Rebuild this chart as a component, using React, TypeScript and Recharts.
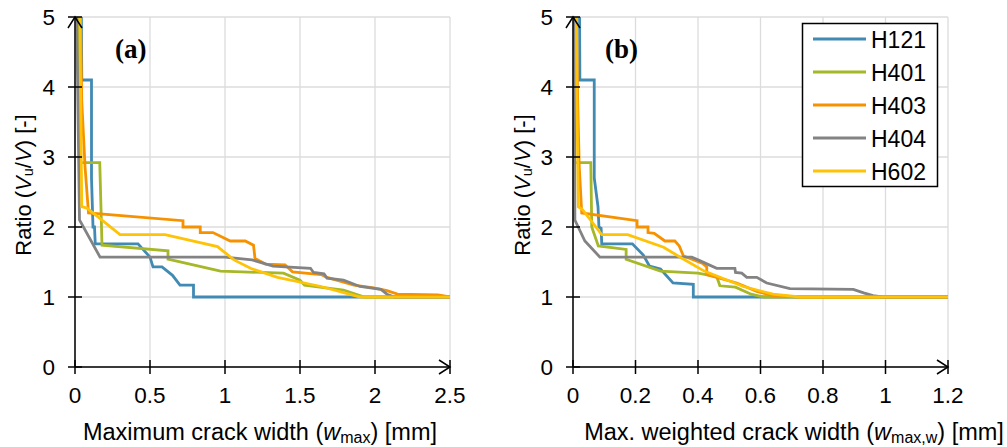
import React from 'react';
import { LineChart, Line, XAxis, YAxis, CartesianGrid, ReferenceDot } from 'recharts';

const FONT = '"Liberation Sans", Arial, sans-serif';

const SERIES_NAMES = ['H121', 'H401', 'H403', 'H404', 'H602'];
const SERIES_COLORS = ['#418AB3', '#A6B727', '#F69200', '#838383', '#FEC306'];

const Y_TICKS = [0, 1, 2, 3, 4, 5];
const XA_TICKS = [0, 0.5, 1, 1.5, 2, 2.5];
const XB_TICKS = [0, 0.2, 0.4, 0.6, 0.8, 1, 1.2];

// Panel (a): maximum crack width
const A_H121: number[][] = [
  [0.04, 6], [0.045, 4.1], [0.11, 4.1], [0.11, 2.7], [0.12, 2.0], [0.13, 2.0], [0.135, 1.76],
  [0.42, 1.76], [0.5, 1.57], [0.52, 1.43], [0.58, 1.43], [0.65, 1.31], [0.7, 1.17],
  [0.79, 1.17], [0.79, 1.0], [2.5, 1.0],
];
const A_H401: number[][] = [
  [0.01, 6], [0.03, 2.92], [0.165, 2.92], [0.18, 1.74], [0.62, 1.66], [0.62, 1.54],
  [0.97, 1.37], [1.39, 1.34], [1.5, 1.24], [1.53, 1.17], [1.79, 1.1], [1.93, 1.0], [2.5, 1.0],
];
const A_H403: number[][] = [
  [0.03, 6], [0.045, 3.8], [0.067, 2.86], [0.09, 2.2], [0.72, 2.09], [0.72, 2.0], [0.835, 2.0],
  [0.835, 1.92], [0.92, 1.92], [1.035, 1.8], [1.135, 1.8], [1.19, 1.74], [1.2, 1.55],
  [1.27, 1.47], [1.4, 1.46], [1.45, 1.36], [1.64, 1.32], [1.68, 1.28], [1.86, 1.17],
  [1.99, 1.13], [2.08, 1.09], [2.15, 1.04], [2.42, 1.03], [2.5, 1.0],
];
const A_H404: number[][] = [
  [0.005, 6], [0.03, 2.1], [0.167, 1.57], [1.0, 1.57], [1.18, 1.53], [1.32, 1.44],
  [1.57, 1.41], [1.59, 1.35], [1.66, 1.33], [1.68, 1.27], [1.79, 1.24], [1.9, 1.15],
  [2.04, 1.11], [2.08, 1.04], [2.13, 1.0], [2.5, 1.0],
];
const A_H602: number[][] = [
  [0.03, 6], [0.037, 4.0], [0.045, 2.29], [0.08, 2.27], [0.3, 1.89], [0.6, 1.89],
  [0.95, 1.72], [1.06, 1.53], [1.17, 1.41], [1.35, 1.28], [1.64, 1.15], [1.9, 1.0], [2.5, 1.0],
];

// Panel (b): max. weighted crack width
const B_H121: number[][] = [
  [0.02, 6], [0.022, 4.1], [0.068, 4.1], [0.068, 2.7], [0.08, 2.29], [0.083, 2.0], [0.09, 1.98],
  [0.092, 1.76], [0.19, 1.76], [0.225, 1.6], [0.245, 1.44], [0.28, 1.4], [0.32, 1.2],
  [0.385, 1.18], [0.385, 1.0], [1.2, 1.0],
];
const B_H401: number[][] = [
  [0.0, 6], [0.002, 2.92], [0.057, 2.92], [0.06, 2.0], [0.081, 1.73], [0.17, 1.68], [0.17, 1.54],
  [0.28, 1.37], [0.4, 1.34], [0.46, 1.29], [0.47, 1.16], [0.52, 1.14], [0.57, 1.04],
  [0.61, 1.0], [1.2, 1.0],
];
const B_H403: number[][] = [
  [0.008, 6], [0.015, 3.8], [0.02, 2.86], [0.028, 2.2], [0.205, 2.09], [0.205, 2.0], [0.24, 2.0],
  [0.24, 1.92], [0.26, 1.91], [0.294, 1.8], [0.326, 1.8], [0.34, 1.73], [0.353, 1.59],
  [0.374, 1.55], [0.415, 1.48], [0.428, 1.43], [0.428, 1.32], [0.524, 1.2], [0.588, 1.08],
  [0.64, 1.02], [0.73, 1.0], [1.2, 1.0],
];
const B_H404: number[][] = [
  [0.004, 6], [0.006, 2.1], [0.038, 1.8], [0.086, 1.57], [0.38, 1.57], [0.4, 1.53],
  [0.46, 1.41], [0.518, 1.41], [0.52, 1.35], [0.54, 1.34], [0.556, 1.28], [0.588, 1.28],
  [0.62, 1.2], [0.694, 1.12], [0.897, 1.11], [0.93, 1.06], [0.96, 1.02], [0.99, 1.0], [1.2, 1.0],
];
const B_H602: number[][] = [
  [0.01, 6], [0.012, 4.0], [0.017, 2.29], [0.03, 2.25], [0.092, 1.89], [0.175, 1.89],
  [0.29, 1.71], [0.35, 1.55], [0.42, 1.37], [0.545, 1.15], [0.64, 1.04], [0.726, 1.0], [1.2, 1.0],
];

const PANEL_A = [A_H121, A_H401, A_H403, A_H404, A_H602];
const PANEL_B = [B_H121, B_H401, B_H403, B_H404, B_H602];

const toPts = (arr: number[][]) => arr.map(([x, y]) => ({ x, y }));

const TICK_FS = 22.5;

const YTick = (props: any) => {
  const { x, y, payload } = props;
  return (
    <g>
      <line x1={x - 7} x2={x + 7} y1={y} y2={y} stroke="#000" strokeWidth={1.5} />
      <text x={x - 20} y={y} textAnchor="end" dominantBaseline="central" fontSize={TICK_FS} fill="#000" fontFamily={FONT}>
        {payload.value}
      </text>
    </g>
  );
};

const XTick = (props: any) => {
  const { x, y, payload } = props;
  return (
    <g>
      <line x1={x} x2={x} y1={y - 7} y2={y + 7} stroke="#000" strokeWidth={1.5} />
      <text x={x} y={y + 28} textAnchor="middle" dominantBaseline="central" fontSize={TICK_FS} fill="#000" fontFamily={FONT}>
        {payload.value}
      </text>
    </g>
  );
};

const ArrowRight = (p: any) => (
  <path d={`M${p.cx - 11},${p.cy - 7} L${p.cx},${p.cy} L${p.cx - 11},${p.cy + 7}`} fill="none" stroke="#000" strokeWidth={1.5} />
);
const ArrowUp = (p: any) => (
  <path d={`M${p.cx - 7},${p.cy + 11} L${p.cx},${p.cy} L${p.cx + 7},${p.cy + 11}`} fill="none" stroke="#000" strokeWidth={1.5} />
);

type PanelProps = {
  series: number[][][];
  ticks: number[];
  xMax: number;
  width: number;
  yAxisWidth: number;
  right: number;
};

const Panel = ({ series, ticks, xMax, width, yAxisWidth, right }: PanelProps) => (
  <LineChart width={width} height={447} margin={{ top: 17, right, bottom: 0, left: 0 }}>
    <CartesianGrid stroke="#dcdcdc" strokeWidth={1.3} />
    <XAxis
      type="number"
      dataKey="x"
      domain={[0, xMax]}
      ticks={ticks}
      interval={0}
      height={80}
      tickSize={0}
      tickMargin={0}
      tickLine={false}
      axisLine={{ stroke: '#000', strokeWidth: 1.5 }}
      tick={<XTick />}
      allowDataOverflow
    />
    <YAxis
      type="number"
      domain={[0, 5]}
      ticks={Y_TICKS}
      interval={0}
      width={yAxisWidth}
      tickSize={0}
      tickMargin={0}
      tickLine={false}
      axisLine={{ stroke: '#000', strokeWidth: 1.5 }}
      tick={<YTick />}
      allowDataOverflow
    />
    {series.map((s, i) => (
      <Line
        key={SERIES_NAMES[i]}
        data={toPts(s)}
        dataKey="y"
        name={SERIES_NAMES[i]}
        type="linear"
        stroke={SERIES_COLORS[i]}
        strokeWidth={2.8}
        dot={false}
        activeDot={false}
        isAnimationActive={false}
      />
    ))}
    <ReferenceDot x={xMax} y={0} r={0} ifOverflow="visible" shape={ArrowRight} />
    <ReferenceDot x={0} y={5} r={0} ifOverflow="visible" shape={ArrowUp} />
  </LineChart>
);

const YLabel = ({ cx, cy }: { cx: number; cy: number }) => (
  <text
    x={cx}
    y={cy}
    transform={`rotate(-90, ${cx}, ${cy})`}
    textAnchor="middle"
    dominantBaseline="central"
    fontSize={22}
    fill="#000"
    fontFamily={FONT}
  >
    Ratio (<tspan fontStyle="italic">V</tspan>
    <tspan fontSize={14.5} dy={5}>u</tspan>
    <tspan dy={-5}>/</tspan>
    <tspan fontStyle="italic">V</tspan>) [-]
  </text>
);

const TITLE_FS = 23.5;

export default function App() {
  return (
    <div style={{ position: 'absolute', left: 0, top: 0, width: 1007, height: 447, background: '#fff', overflow: 'hidden' }}>
      <div style={{ position: 'absolute', left: 0, top: 0 }}>
        <Panel series={PANEL_A} ticks={XA_TICKS} xMax={2.5} width={500} yAxisWidth={75} right={50} />
      </div>
      <div style={{ position: 'absolute', left: 500, top: 0 }}>
        <Panel series={PANEL_B} ticks={XB_TICKS} xMax={1.2} width={507} yAxisWidth={73} right={59} />
      </div>
      <svg width={1007} height={447} style={{ position: 'absolute', left: 0, top: 0, pointerEvents: 'none' }}>
        <YLabel cx={23} cy={185} />
        <YLabel cx={522} cy={185} />
        <text x={260} y={432} textAnchor="middle" dominantBaseline="central" fontSize={TITLE_FS} fill="#000" fontFamily={FONT}>
          Maximum crack width (<tspan fontStyle="italic">w</tspan>
          <tspan fontSize={16} dy={5}>max</tspan>
          <tspan dy={-5}>) [mm]</tspan>
        </text>
        <text x={794} y={432} textAnchor="middle" dominantBaseline="central" fontSize={TITLE_FS} fill="#000" fontFamily={FONT}>
          Max. weighted crack width (<tspan fontStyle="italic">w</tspan>
          <tspan fontSize={16} dy={5}>max,w</tspan>
          <tspan dy={-5}>) [mm]</tspan>
        </text>
        <text x={115} y={58} fontSize={27} fontWeight="bold" fill="#000" fontFamily='"Liberation Serif", "Times New Roman", serif'>(a)</text>
        <text x={605} y={58} fontSize={27} fontWeight="bold" fill="#000" fontFamily='"Liberation Serif", "Times New Roman", serif'>(b)</text>
        <rect x={802.5} y={23.5} width={135} height={163} fill="#fff" stroke="#000" strokeWidth={1.5} />
        {SERIES_NAMES.map((n, i) => (
          <g key={n}>
            <line x1={813} x2={866} y1={39 + i * 33} y2={39 + i * 33} stroke={SERIES_COLORS[i]} strokeWidth={2.8} />
            <text x={871} y={40 + i * 33} dominantBaseline="central" fontSize={23} fill="#000" fontFamily={FONT}>{n}</text>
          </g>
        ))}
      </svg>
    </div>
  );
}
